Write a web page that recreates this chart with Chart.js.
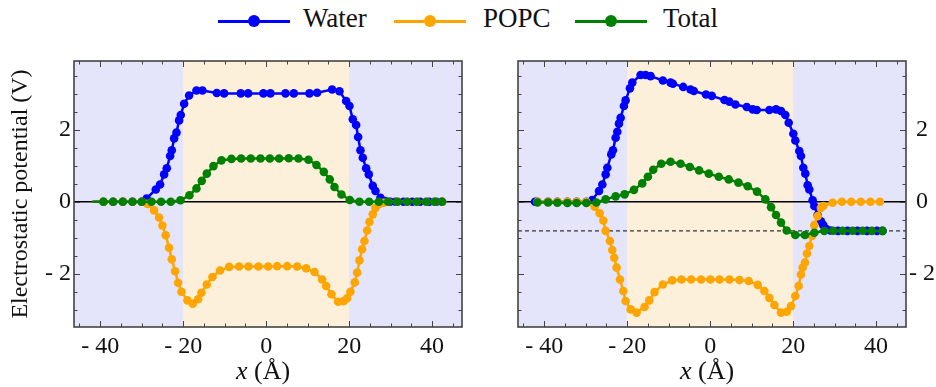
<!DOCTYPE html>
<html>
<head>
<meta charset="utf-8">
<script src="https://cdn.jsdelivr.net/npm/chart.js@4"></script>
<style>
  body { margin: 0; background: #fff; width: 936px; height: 387px; overflow: hidden; position: relative; }
  .panel { position: absolute; top: 0; width: 468px; height: 387px; }
  .key { position: absolute; top: 0; height: 40px; }
  .key .ln { position: absolute; left: 0; top: 19.5px; width: 72px; height: 3px; }
  .key .dot { position: absolute; left: 30px; top: 15px; width: 12px; height: 12px; border-radius: 50%; }
  .key span { position: absolute; top: 5px; line-height: 27px; font-size: 27px; font-family: 'Liberation Serif', serif; color: #111; white-space: nowrap; }
</style>
</head>
<body>
<div id="legend"></div>
<div class="panel" style="left:0"><canvas id="left"></canvas></div>
<div class="panel" style="left:468px"><canvas id="right"></canvas></div>
<script>
// axes
const xRange = [-46.3, 47.2];
const yRange = [-3.48, 3.91];
const xMajorTicks = [-40, -20, 0, 20, 40];
const yMajorTicks = [-2, 0, 2];
const xMinorStep = 5;
const yMinorStep = 0.5;
const membrane = [-20, 20];     // lipid slab, x in Å
const offsetLevelR = -0.81;     // dashed level in the right panel (V)

const seriesNames = ['Water', 'POPC', 'Total'];
const seriesColors = ['#0000ff', '#ffa500', '#008000'];

// [x (Å), potential (V)] -- left panel
const waterL = [[-41.85,0],[-39.2,0],[-36.87,0],[-34.54,0],[-32.21,0],[-30.0,0],[-28.8,0.09],[-26.59,0.34],[-25.55,0.48],
  [-24.58,0.76],[-23.94,0.93],[-23.14,1.27],[-22.74,1.43],[-22.17,1.76],[-21.61,1.92],[-20.97,2.26],[-20.57,2.41],
  [-19.76,2.72],[-18.56,2.95],[-16.79,3.09],[-15.35,3.09],[-11.89,3.02],[-10.13,3.01],[-6.11,3.01],[-4.34,3.01],
  [-0.65,3.01],[1.04,3.01],[4.66,3.01],[6.67,3.01],[10.44,3.01],[12.29,3.03],[15.9,3.12],[17.67,3.07],[19.28,2.8],
  [20.08,2.66],[20.88,2.29],[21.69,2.13],[22.17,1.8],[22.73,1.43],[23.29,1.22],[24.1,0.93],[24.74,0.76],[25.7,0.44],
  [26.35,0.3],[27.55,0.11],[28.75,0.02],[29.9,0],[31.2,0],[33.1,0],[35.2,0],[37.1,0],[39.3,0],[41.0,0],[42.4,0]];
const popcL = [[-41.85,0],[-39.2,0],[-36.87,0],[-34.54,0],[-32.21,0],[-29.97,0],[-28.6,-0.06],[-27.0,-0.24],[-25.8,-0.44],
  [-25.0,-0.66],[-24.2,-0.93],[-23.4,-1.28],[-22.74,-1.6],[-21.93,-1.93],[-21.21,-2.25],[-20.41,-2.5],[-18.96,-2.74],
  [-17.67,-2.83],[-16.39,-2.71],[-15.59,-2.53],[-14.3,-2.3],[-12.94,-2.09],[-11.09,-1.91],[-8.92,-1.81],[-6.51,-1.8],
  [-4.26,-1.8],[-1.85,-1.8],[0.48,-1.8],[2.65,-1.79],[5.06,-1.79],[7.47,-1.8],[9.64,-1.85],[11.65,-1.95],[13.49,-2.16],
  [14.46,-2.34],[15.74,-2.57],[17.35,-2.78],[18.71,-2.76],[19.52,-2.68],[20.32,-2.5],[21.36,-2.24],[21.93,-1.97],
  [22.49,-1.63],[23.13,-1.32],[23.69,-1.09],[24.34,-0.8],[24.9,-0.56],[25.7,-0.35],[26.35,-0.17],[27.31,-0.06],
  [28.35,-0.03],[29.4,0],[31.65,0],[33.98,0],[36.3,0],[38.6,0],[40.6,0],[42.4,0]];
const totalL = [[-41.85,0],[-39.2,0],[-36.87,0],[-34.54,0],[-32.21,0],[-29.97,0],[-27.63,0],[-25.31,0],[-22.98,0],
  [-20.65,0.04],[-18.48,0.18],[-16.79,0.37],[-15.51,0.58],[-14.3,0.78],[-12.7,0.99],[-10.77,1.15],[-8.36,1.19],
  [-6.03,1.2],[-3.7,1.2],[-1.37,1.2],[0.9,1.2],[3.13,1.2],[5.46,1.21],[7.79,1.2],[10.2,1.165],[12.13,1.02],[13.9,0.83],
  [15.34,0.62],[16.47,0.41],[18.15,0.2],[20.16,0.05],[22.49,0],[24.82,0],[27.15,0],[29.4,0],[31.65,0],[33.98,0],
  [36.3,0],[38.6,0],[40.6,0],[42.4,0]];

// [x (Å), potential (V)] -- right panel
const waterR = [[-42.2,0],[-41.62,0],[-39.05,0],[-36.81,0],[-34.4,0],[-32.16,0],[-29.83,0],[-28.4,0.05],[-26.78,0.3],
  [-25.98,0.48],[-25.18,0.76],[-24.78,0.945],[-23.82,1.315],[-23.42,1.43],[-22.77,1.78],[-22.37,1.945],[-21.97,2.17],
  [-21.57,2.33],[-20.77,2.66],[-20.37,2.815],[-19.32,3.15],[-18.76,3.31],[-16.76,3.52],[-15.56,3.52],[-14.35,3.49],
  [-11.39,3.37],[-9.54,3.31],[-8.98,3.28],[-6.49,3.19],[-4.73,3.12],[-3.93,3.075],[-1.0,2.98],[0.4,2.94],[3.45,2.825],
  [4.65,2.78],[6.09,2.7],[8.82,2.63],[10.26,2.565],[11.23,2.55],[14.27,2.55],[15.88,2.565],[17.08,2.52],[18.12,2.41],
  [18.93,2.195],[20.05,1.89],[20.53,1.7],[21.49,1.41],[21.89,1.27],[22.45,0.945],[22.94,0.78],[23.5,0.46],[23.9,0.34],
  [24.7,0.04],[25.1,-0.12],[25.9,-0.37],[26.7,-0.54],[27.27,-0.65],[27.9,-0.75],[29.0,-0.8],[30.8,-0.81],[33.1,-0.81],
  [35.5,-0.81],[37.8,-0.81],[40.2,-0.81],[41.54,-0.81]];
const popcR = [[-41.62,0],[-39.05,0],[-36.81,0],[-34.4,0],[-32.16,0],[-29.83,0],[-27.83,-0.14],[-26.62,-0.32],[-25.74,-0.52],
  [-25.18,-0.81],[-24.14,-1.09],[-23.58,-1.34],[-23.1,-1.555],[-22.53,-1.83],[-21.73,-2.16],[-20.93,-2.48],[-20.37,-2.76],
  [-19.16,-2.99],[-17.72,-3.08],[-15.8,-2.925],[-14.67,-2.74],[-13.39,-2.51],[-11.39,-2.3],[-9.14,-2.185],[-6.9,-2.16],
  [-4.57,-2.16],[-2.16,-2.16],[0.08,-2.16],[2.25,-2.16],[4.65,-2.16],[7.06,-2.175],[9.3,-2.2],[11.47,-2.31],[13.07,-2.48],
  [14.27,-2.67],[15.48,-2.87],[17.08,-3.08],[18.45,-3.055],[19.49,-2.9],[20.53,-2.62],[21.33,-2.34],[21.89,-2.02],
  [22.29,-1.83],[22.86,-1.69],[23.34,-1.44],[23.9,-1.23],[24.54,-0.95],[25.1,-0.65],[25.9,-0.4],[26.7,-0.17],[27.27,-0.12],
  [29.51,-0.03],[31.76,0],[34.0,0],[36.33,0],[38.65,0],[40.9,0]];
const totalR = [[-41.62,-0.02],[-39.05,-0.02],[-36.81,-0.03],[-34.4,-0.035],[-32.16,-0.035],[-29.83,-0.035],[-27.42,-0.02],
  [-25.18,0.066],[-22.77,0.15],[-20.61,0.205],[-18.36,0.33],[-16.36,0.51],[-15.0,0.695],[-13.71,0.89],[-11.79,1.056],
  [-9.54,1.11],[-7.13,1.056],[-4.89,0.964],[-2.65,0.87],[-0.32,0.78],[2.09,0.695],[4.49,0.62],[6.82,0.53],[9.06,0.43],
  [11.31,0.28],[13.31,0.066],[14.68,-0.15],[15.88,-0.37],[17.08,-0.58],[18.45,-0.8],[20.53,-0.925],[22.85,-0.925],
  [25.1,-0.86],[27.51,-0.814],[29.67,-0.805],[31.92,-0.805],[34.32,-0.805],[36.73,-0.805],[38.97,-0.81],[41.54,-0.81]];

const serif = "'Liberation Serif', serif";

// legend across the top
const legendSlots = [[218, 303], [394, 483], [575, 663]];
const legend = document.getElementById('legend');
seriesNames.forEach((name, i) => {
  const k = document.createElement('div');
  k.className = 'key';
  k.style.left = legendSlots[i][0] + 'px';
  k.innerHTML = '<div class="ln" style="background:' + seriesColors[i] + '"></div>' +
    '<div class="dot" style="background:' + seriesColors[i] + '"></div>' +
    '<span style="left:' + (legendSlots[i][1] - legendSlots[i][0]) + 'px">' + name + '</span>';
  legend.appendChild(k);
});

function fmt(v) {
  return v < 0 ? '- ' + Math.abs(v) : String(v);
}

// bilayer / water shading, zero line and the dashed offset level
const shading = {
  id: 'shading',
  beforeDatasetsDraw(chart, args, opts) {
    const {ctx, chartArea: a, scales: {x, y}} = chart;
    ctx.save();
    ctx.fillStyle = '#e4e4fb';
    ctx.fillRect(a.left, a.top, a.width, a.height);
    const x0 = x.getPixelForValue(membrane[0]);
    const x1 = x.getPixelForValue(membrane[1]);
    ctx.fillStyle = '#fdf0da';
    ctx.fillRect(x0, a.top, x1 - x0, a.height);

    ctx.strokeStyle = '#000';
    ctx.lineWidth = 1.5;
    const y0 = y.getPixelForValue(0);
    ctx.beginPath();
    ctx.moveTo(a.left, y0);
    ctx.lineTo(a.right, y0);
    ctx.stroke();

    if (opts.level !== undefined) {
      const yl = y.getPixelForValue(opts.level);
      ctx.strokeStyle = '#333';
      ctx.lineWidth = 1.1;
      ctx.setLineDash([4, 3]);
      ctx.beginPath();
      ctx.moveTo(a.left, yl);
      ctx.lineTo(a.right, yl);
      ctx.stroke();
    }
    ctx.restore();
  }
};

// frame with inward ticks on all four sides, plus the x title
const frame = {
  id: 'frame',
  afterDraw(chart) {
    const {ctx, chartArea: a, scales: {x, y}} = chart;
    ctx.save();
    ctx.strokeStyle = '#444';
    ctx.lineWidth = 1;
    ctx.beginPath();
    for (let v = Math.ceil(xRange[0] / xMinorStep) * xMinorStep; v <= xRange[1]; v += xMinorStep) {
      const px = Math.round(x.getPixelForValue(v)) + 0.5;
      const len = xMajorTicks.includes(v) ? 6 : 3.5;
      ctx.moveTo(px, a.bottom); ctx.lineTo(px, a.bottom - len);
      ctx.moveTo(px, a.top); ctx.lineTo(px, a.top + len);
    }
    for (let v = Math.ceil(yRange[0] / yMinorStep) * yMinorStep; v <= yRange[1]; v += yMinorStep) {
      const py = Math.round(y.getPixelForValue(v)) + 0.5;
      const len = yMajorTicks.includes(v) ? 6 : 3.5;
      ctx.moveTo(a.left, py); ctx.lineTo(a.left + len, py);
      ctx.moveTo(a.right, py); ctx.lineTo(a.right - len, py);
    }
    ctx.stroke();
    ctx.lineWidth = 1.6;
    ctx.strokeRect(a.left, a.top, a.width, a.height);

    // x (Å) with italic x
    const it = 'italic 26px ' + serif, rm = '26px ' + serif;
    ctx.fillStyle = '#111';
    ctx.textBaseline = 'alphabetic';
    ctx.font = it;
    const w1 = ctx.measureText('x').width;
    ctx.font = rm;
    const w2 = ctx.measureText(' (Å)').width;
    const tx = (a.left + a.right) / 2 - 5 - (w1 + w2) / 2;
    ctx.font = it;
    ctx.fillText('x', tx, 379);
    ctx.font = rm;
    ctx.fillText(' (Å)', tx + w1, 379);
    ctx.restore();
  }
};

function panel(id, sets, side, level) {
  const isLeft = side === 'left';
  return new Chart(document.getElementById(id), {
    type: 'line',
    data: {
      datasets: sets.map((pts, i) => ({
        label: seriesNames[i],
        data: pts.map(p => ({x: p[0], y: p[1]})),
        borderColor: seriesColors[i],
        backgroundColor: seriesColors[i],
        pointBackgroundColor: seriesColors[i],
        borderWidth: 2.5,
        pointBorderWidth: 0,
        pointRadius: isLeft ? (c => c.dataIndex === 0 ? 0 : 4.3) : 4.3,
        tension: 0,
        order: 3 - i
      }))
    },
    options: {
      responsive: true,
      maintainAspectRatio: false,
      animation: false,
      devicePixelRatio: 1,
      events: [],
      layout: {padding: isLeft ? {top: 61, right: 6, left: 0, bottom: 0} : {top: 61, right: 0, left: 50, bottom: 0}},
      plugins: {
        legend: {display: false},
        tooltip: {enabled: false},
        shading: {level: level}
      },
      scales: {
        x: {
          type: 'linear',
          min: xRange[0], max: xRange[1],
          grid: {display: false, drawTicks: false},
          border: {display: false},
          ticks: {font: {family: serif, size: 24}, color: '#111', padding: 5, maxRotation: 0, callback: fmt},
          afterBuildTicks: s => { s.ticks = xMajorTicks.map(v => ({value: v})); },
          afterFit: s => { s.height = 60; }
        },
        y: {
          type: 'linear',
          position: side,
          min: yRange[0], max: yRange[1],
          grid: {display: false, drawTicks: false},
          border: {display: false},
          ticks: {font: {family: serif, size: 24}, color: '#111', padding: 3,
            crossAlign: isLeft ? 'near' : 'center', callback: fmt},
          afterBuildTicks: s => { s.ticks = yMajorTicks.map(v => ({value: v})); },
          afterFit: s => { s.width = isLeft ? 74 : 30; },
          title: {display: isLeft, text: 'Electrostatic potential (V)', color: '#111',
            font: {family: serif, size: 24}, padding: {top: 6, bottom: 0}}
        }
      }
    },
    plugins: [shading, frame]
  });
}

panel('left', [waterL, popcL, totalL], 'left');
panel('right', [waterR, popcR, totalR], 'right', offsetLevelR);
</script>
</body>
</html>
